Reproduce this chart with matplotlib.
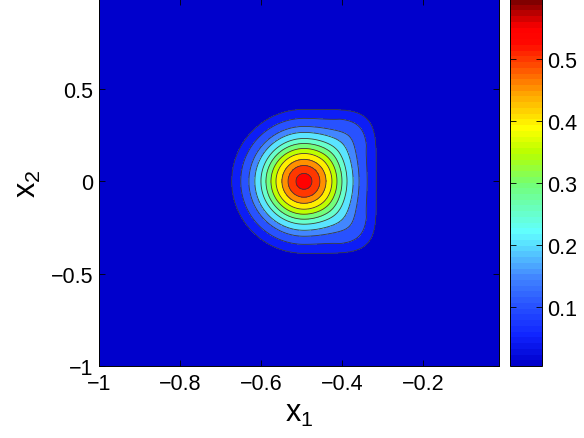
import numpy as np
import matplotlib
matplotlib.use("Agg")
import matplotlib.pyplot as plt
from matplotlib.colors import LinearSegmentedColormap, ListedColormap, Normalize

plt.rcParams['font.family'] = ['Liberation Sans', 'DejaVu Sans']
plt.rcParams['mathtext.default'] = 'regular'

# contour levels and where each one crosses the vertical through the peak
levels = [0.05, 0.10, 0.15, 0.20, 0.25, 0.30, 0.35, 0.40, 0.45, 0.50, 0.55]
half_height = [0.389, 0.341, 0.297, 0.265, 0.232, 0.205, 0.178, 0.151, 0.119, 0.086, 0.043]
peak_x, peak_y, peak_z = -0.494, 0.0, 0.597
z_floor = 0.005
outer_hw = 0.178   # horizontal half width of outer contour (x units)
outer_hh = 0.389   # vertical half height of outer contour (y units)

# colour anchors of the colormap (value -> rgb)
cmap_vals = [0.005, 0.05, 0.10, 0.15, 0.20, 0.22, 0.30, 0.35, 0.39, 0.45, 0.50, 0.53, 0.555, 0.597]
cmap_rgb = [(0, 0, 0.80), (0.06, 0.14, 1.0), (0.16, 0.33, 1.0), (0.27, 0.55, 1.0),
            (0.35, 0.88, 1.0), (0.38, 1.0, 1.0), (0.45, 1.0, 0.45), (0.72, 1.0, 0.0),
            (1.0, 1.0, 0.0), (1.0, 0.62, 0.0), (1.0, 0.25, 0.0), (1.0, 0.03, 0.0),
            (1.0, 0.0, 0.0), (0.5, 0.0, 0.0)]

vmin, vmax = z_floor, peak_z
pos = [(v - vmin) / (vmax - vmin) for v in cmap_vals]
base = LinearSegmentedColormap.from_list('mc', list(zip(pos, cmap_rgb)))
cmap = ListedColormap(base(np.linspace(0, 1, 64)))
norm = Normalize(vmin, vmax)

# radial profile
prof_r = [0.0] + [h / outer_hh for h in half_height[::-1]] + [1.3, 2.2]
prof_z = [peak_z] + levels[::-1] + [0.015, z_floor]

x = np.linspace(-1, -0.0125, 500)
y = np.linspace(-1, 0.9875, 500)
X, Y = np.meshgrid(x, y)
u = (X - peak_x) / outer_hw
v = (Y - peak_y) / outer_hh
d2 = np.hypot(u, v)
d5 = (np.abs(u) ** 5 + np.abs(v) ** 5) ** 0.2
w = np.where(u > 0, np.clip(d2, 0, 1) ** 2.5, 0.0)
d = d2 * (1 - w) + d5 * w
Z = np.interp(d, prof_r, prof_z)

fig = plt.figure(figsize=(5.84, 4.39), dpi=100)
ax = fig.add_axes([0.1695, 0.164, 0.685, 0.836])
fill_levels = [Z.min() - 1e-6] + levels + [Z.max() + 1e-6]
fill_colors = [cmap(norm(Z.min()))] + [cmap(norm(l)) for l in levels]
ax.contourf(X, Y, Z, levels=fill_levels, colors=fill_colors)
ax.contour(X, Y, Z, levels=levels, colors='#3a3a3a', linewidths=0.6)

ax.set_xlim(-1, -0.0125)
ax.set_ylim(-1, 0.9875)
ax.set_xticks([-1, -0.8, -0.6, -0.4, -0.2])
ax.set_xticklabels(['\u22121', '\u22120.8', '\u22120.6', '\u22120.4', '\u22120.2'])
ax.set_yticks([-1, -0.5, 0, 0.5])
ax.set_yticklabels(['\u22121', '\u22120.5', '0', '0.5'])
ax.tick_params(direction='in', length=4, width=0.6, labelsize=15.5, top=True, right=True)
ax.tick_params(axis='x', pad=5)
ax.tick_params(axis='y', pad=4)
for s in ax.spines.values():
    s.set_linewidth(0.7)
ax.set_xlabel('$x_1$', fontsize=22, labelpad=3)
ax.set_ylabel('$x_2$', fontsize=22, labelpad=6)

cax = fig.add_axes([0.873, 0.164, 0.055, 0.836])
sm = plt.cm.ScalarMappable(norm=norm, cmap=cmap)
cb = fig.colorbar(sm, cax=cax)
cb.set_ticks([0.1, 0.2, 0.3, 0.4, 0.5])
cb.ax.tick_params(direction='in', length=4, width=0.6, labelsize=15.5, left=True, right=True)
cb.outline.set_linewidth(0.7)

fig.savefig('out.png', dpi=100)
